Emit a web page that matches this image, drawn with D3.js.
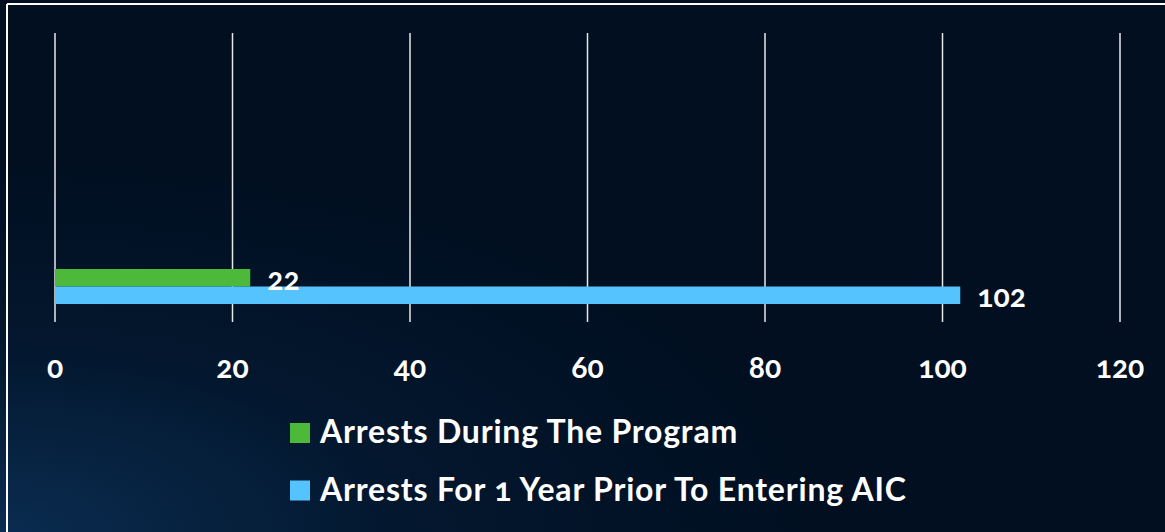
<!DOCTYPE html>
<html>
<head>
<meta charset="utf-8">
<script src="https://cdn.jsdelivr.net/npm/d3@7"></script>
<style>
  body { margin: 0; background: #010f21; }
  svg { display: block; }
  text { font-family: Lato, "Open Sans", sans-serif; font-weight: bold; fill: #fff; font-variant-numeric: oldstyle-nums; }
</style>
</head>
<body>
<div id="chart"></div>
<script>
let series = ["Arrests During The Program", "Arrests For 1 Year Prior To Entering AIC"],
    values = [22, 102],
    colors = ["#4db93a", "#55c4fe"],
    ticks = [0, 20, 40, 60, 80, 100, 120];

let W = 1165, H = 532;

var svg = d3.select("#chart").append("svg")
    .attr("width", W)
    .attr("height", H);

var defs = svg.append("defs");
var grad = defs.append("radialGradient")
    .attr("id", "bg")
    .attr("cx", "0%").attr("cy", "100%").attr("r", "70%");
grad.append("stop").attr("offset", "0%").attr("stop-color", "#0a2c50");
grad.append("stop").attr("offset", "50%").attr("stop-color", "#03172e");
grad.append("stop").attr("offset", "100%").attr("stop-color", "#010f21");

svg.append("rect").attr("width", W).attr("height", H).style("fill", "url(#bg)");

// frame lines (top and left)
svg.append("line").attr("x1", 7).attr("x2", W).attr("y1", 4).attr("y2", 4)
    .style("stroke", "#fff").style("stroke-width", 2);
svg.append("line").attr("x1", 7).attr("x2", 7).attr("y1", 4).attr("y2", H)
    .style("stroke", "#fff").style("stroke-width", 2);

var x = d3.scaleLinear().domain([0, 120]).range([55, 1120]);
var y = d3.scaleBand().domain(series).range([269, 304]);

// gridlines
svg.selectAll(".grid")
    .data(ticks)
    .enter().append("line")
        .attr("x1", d => x(d)).attr("x2", d => x(d))
        .attr("y1", 33).attr("y2", 322)
        .style("stroke", "#e8e8e8")
        .style("stroke-width", 1.5);

// tick labels
svg.selectAll(".tickLabel")
    .data(ticks)
    .enter().append("text")
        .attr("x", d => x(d))
        .attr("y", 378)
        .style("text-anchor", "middle")
        .style("font-size", "30px")
        .text(d => d);

// bars
svg.selectAll(".bar")
    .data(values)
    .enter().append("rect")
        .attr("x", x(0))
        .attr("y", (d, i) => y(series[i]))
        .attr("width", d => x(d) - x(0))
        .attr("height", y.bandwidth())
        .style("fill", (d, i) => colors[i]);

// value labels
svg.selectAll(".valLabel")
    .data(values)
    .enter().append("text")
        .attr("x", d => x(d) + 17)
        .attr("y", (d, i) => y(series[i]) + y.bandwidth() / 2 + (i == 0 ? 12 : 12))
        .style("font-size", "30px")
        .text(d => d);

// legend
var legend = svg.selectAll(".legend")
    .data(series)
    .enter().append("g")
        .attr("transform", (d, i) => "translate(290," + (423 + i * 57.5) + ")");

legend.append("rect")
    .attr("width", 20).attr("height", 20)
    .style("fill", (d, i) => colors[i]);

legend.append("text")
    .attr("x", 30)
    .attr("y", 20)
    .style("font-size", "32px")
    .style("letter-spacing", "0.8px")
    .text(d => d);
</script>
</body>
</html>
